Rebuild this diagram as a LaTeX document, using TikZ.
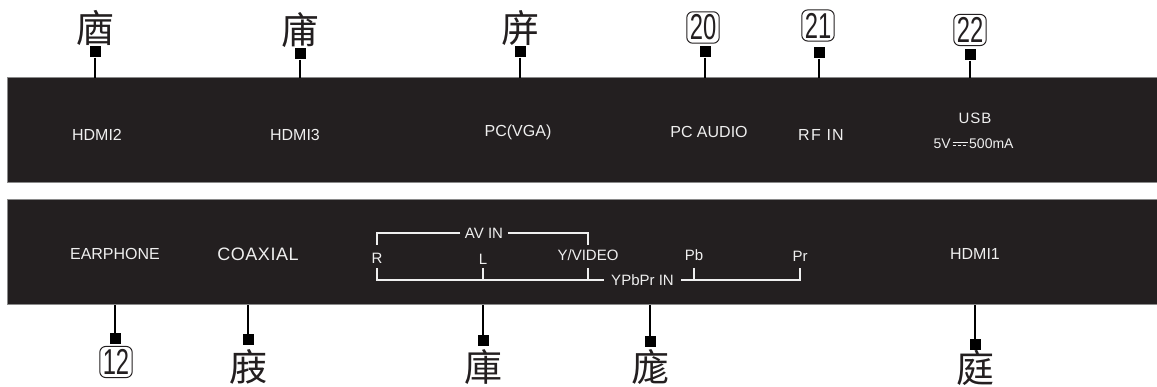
\documentclass[tikz,border=0pt]{standalone}
\usepackage{fontspec}
\setmainfont{Liberation Sans}
\newfontfamily\cjk{Noto Sans CJK SC}
\usetikzlibrary{calc}
\definecolor{barc}{HTML}{231F20}
\definecolor{bord}{HTML}{8A8A8A}
\definecolor{txt}{HTML}{EFEFEF}
\definecolor{ink}{HTML}{231F20}
\begin{document}
\begin{tikzpicture}[x=1pt,y=-1pt,
  bar/.style={fill=barc,draw=bord,line width=1pt},
  lbl/.style={text=txt,inner sep=0pt,font=\fontsize{16}{16}\selectfont},
  small/.style={text=txt,inner sep=0pt,font=\fontsize{15}{15}\selectfont},
  br/.style={draw=txt,line width=1.1pt},
  sq/.style={fill=black,minimum width=11pt,minimum height=11pt,inner sep=0pt},
  lead/.style={draw=black,line width=1.3pt},
  cj/.style={text=ink,inner sep=0pt,font=\cjk\fontsize{38}{38}\selectfont},
  num/.style={draw=ink,text=ink,rounded corners=6pt,line width=1pt,inner xsep=3pt,inner ysep=3pt,font=\fontsize{36}{36}\selectfont}]
\useasboundingbox (0,0) rectangle (1157,387);
\fill[white] (0,0) rectangle (1157,387);
% panels
\draw[bar] (7,78) rectangle (1165,183);
\draw[bar] (7,200) rectangle (1165,305);
% top panel texts
\node[lbl] (hdmi2) at (97,135) {HDMI2};
\node[lbl] (hdmi3) at (295,135) {HDMI3};
\node[lbl] (pcvga) at (518,132) {PC(VGA)};
\node[lbl] (pcaudio) at (709,132) {PC AUDIO};
\node[lbl,font=\fontsize{16}{16}\selectfont\addfontfeature{LetterSpace=8}] (rfin) at (821,135) {RF IN};
\node[small,font=\fontsize{15}{15}\selectfont\addfontfeature{LetterSpace=6}] (usb) at (975,118) {USB};
\node[small,font=\fontsize{14}{14}\selectfont,anchor=east] (fivev) at (951,144) {5V};
\node[small,font=\fontsize{14}{14}\selectfont,anchor=west] (ma) at (969,144) {500mA};
\draw[draw=txt,line width=0.9pt] ($(fivev.east)+(1.5,-1.8)$) -- ($(ma.west)+(-1.5,-1.8)$);
\draw[draw=txt,line width=0.9pt,dash pattern=on 3pt off 2pt] ($(fivev.east)+(1.5,1.8)$) -- ($(ma.west)+(-1.5,1.8)$);
% bottom panel texts
\node[lbl] (earphone) at (115,254) {EARPHONE};
\node[lbl,font=\fontsize{18}{18}\selectfont\addfontfeature{LetterSpace=3}] (coaxial) at (258,254) {COAXIAL};
\node[lbl] (hdmi1) at (975,254) {HDMI1};
% AV IN / YPbPr IN group
\node[small,inner xsep=4.5pt] (avin) at (484,233) {AV IN};
\node[small] (rl) at (377,258) {R};
\node[small] (ll) at (483,259) {L};
\node[small] (yv) at (588,255) {Y/VIDEO};
\node[small] (pb) at (694,255) {Pb};
\node[small] (pr) at (800,256) {Pr};
\node[small,inner xsep=7.5pt] (ypbpr) at (642.5,280) {YPbPr IN};
\coordinate (avl) at (377,245);
\coordinate (avr) at (588,245);
\draw[br] (avin.west) -| (avl);
\draw[br] (avin.east) -| (avr);
\coordinate (tr) at (377,268);
\coordinate (tl) at (483,268);
\coordinate (ty) at (588,268);
\coordinate (tpb) at (694,268);
\coordinate (tpr) at (800,268);
\draw[br] (ypbpr.west) -| (tr);
\draw[br] (tl) -- (tl |- ypbpr.west);
\draw[br] (ty) -- (ty |- ypbpr.west);
\draw[br] (ypbpr.east) -| (tpr);
\draw[br] (tpb) -- (tpb |- ypbpr.east);
% top callouts
\node[cj] (c17) at (95,28) {庮};
\node[cj] (c18) at (300,30) {庯};
\node[cj] (c19) at (520,28) {庰};
\node[num] (c20) at (703,27.5) {\scalebox{0.66}[1]{20}};
\node[num] (c21) at (818,25.5) {\scalebox{0.66}[1]{21}};
\node[num] (c22) at (970,30) {\scalebox{0.66}[1]{22}};
\node[sq] (s17) at (95,52) {};
\node[sq] (s18) at (300,54) {};
\node[sq] (s19) at (520,52) {};
\node[sq] (s20) at (705,52) {};
\node[sq] (s21) at (819,53) {};
\node[sq] (s22) at (970,55) {};
\coordinate (b17) at (95,78);
\coordinate (b18) at (300,78);
\coordinate (b19) at (520,78);
\coordinate (b20) at (705,78);
\coordinate (b21) at (819,78);
\coordinate (b22) at (970,78);
\foreach \i in {17,...,22} {\draw[lead] (s\i) -- (b\i);}
% bottom callouts
\node[num] (c12) at (116,362) {\scalebox{0.66}[1]{12}};
\node[cj] (c13) at (248,367) {庪};
\node[cj] (c14) at (483,367) {庫};
\node[cj] (c15) at (650,367) {庬};
\node[cj] (c16) at (975,368) {庭};
\node[sq] (s12) at (115,339) {};
\node[sq] (s13) at (248,340) {};
\node[sq] (s14) at (483,341) {};
\node[sq] (s15) at (650,342) {};
\node[sq] (s16) at (975,345) {};
\coordinate (b12) at (115,305);
\coordinate (b13) at (248,305);
\coordinate (b14) at (483,305);
\coordinate (b15) at (650,305);
\coordinate (b16) at (975,305);
\foreach \i in {12,...,16} {\draw[lead] (s\i) -- (b\i);}
\end{tikzpicture}
\end{document}
